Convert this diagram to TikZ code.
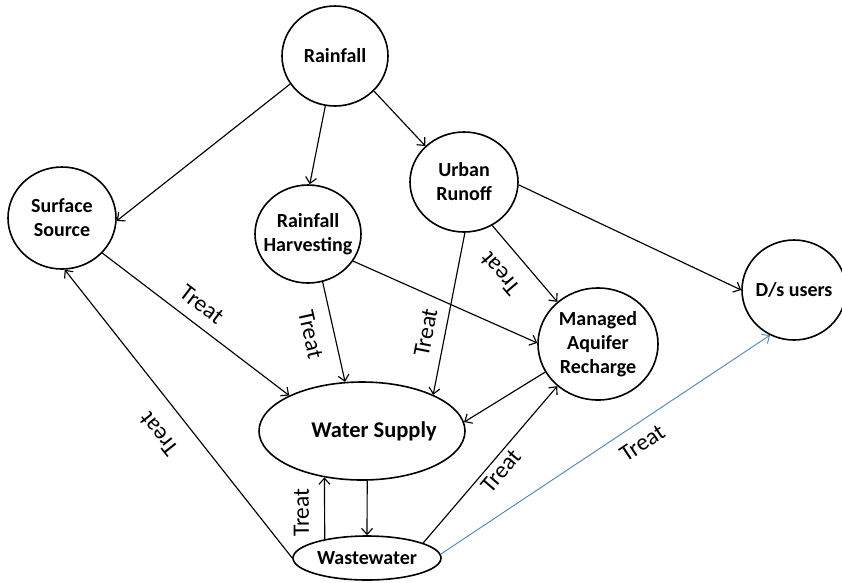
\documentclass[tikz,border=0pt]{standalone}
\usepackage{fontspec}
\setmainfont{Carlito}
\usetikzlibrary{arrows.meta,shapes.geometric}
\definecolor{lblue}{HTML}{4F81BD}
\begin{document}
\begin{tikzpicture}[x=1pt,y=-1pt,
  every node/.style={font=\bfseries\fontsize{20}{24}\selectfont},
  circ/.style={draw,ellipse,line width=1.6pt,inner xsep=-16pt,inner ysep=0pt,align=center},
  edge/.style={line width=1.15pt,-{Straight Barb[length=6pt,width=11pt]}},
  redge/.style={line width=1.15pt,{Straight Barb[length=6pt,width=11pt]}-},
  lab/.style={font=\fontsize{23.5}{26}\selectfont,inner sep=0pt,text=black},
]
\useasboundingbox (0,0) rectangle (842,582);
\node[circ,minimum width=106pt,minimum height=100pt] (rain) at (335,56) {Rainfall};
\node[circ,minimum width=108pt,minimum height=102pt] (surf) at (62,218) {Surface\\Source};
\node[circ,minimum width=106pt,minimum height=98pt] (harv) at (308,234) {Rainfall\\Harvesting};
\node[circ,minimum width=108pt,minimum height=100pt] (urban) at (464,182) {Urban\\Runoff};
\node[circ,minimum width=120pt,minimum height=112pt] (mar) at (598,344) {Managed\\Aquifer\\Recharge};
\node[circ,minimum width=104pt,minimum height=100pt] (dsu) at (794,290) {D/s users};
\node[circ,minimum width=206pt,minimum height=98pt,font=\bfseries\fontsize{22.5}{26}\selectfont] (ws) at (362,431) {\hspace*{24pt}Water Supply};
\node[circ,minimum width=148pt,minimum height=44pt] (ww) at (367,558) {Wastewater};

\draw[edge] (rain.212) -- (surf.-3);
\draw[edge] (rain.259) -- (harv.88);
\draw[edge] (rain.-42) -- (urban.137);
\draw[edge] (surf.-41) -- node[lab,sloped,above=11pt,pos=.47]{Treat} (ws.154);
\draw[edge] (harv.-73) -- node[lab,sloped,below=15pt,pos=.475]{Treat} (ws.109);
\draw[edge] (harv.-31) -- (mar.179);
\draw[edge] (urban.-89) -- node[lab,sloped,above=11pt,pos=.64]{Treat} (ws.27);
\draw[redge] (mar.134) -- node[lab,sloped,allow upside down,above=17pt,pos=.582]{Treat} (urban.-57);
\draw[edge] (urban.-3) -- (dsu.180);
\draw[edge] (mar.208) -- (ws.5);
\draw[edge] (ww.156.8) -- node[lab,sloped,allow upside down,above=15pt,pos=.43]{Treat} (ws.-129);
\draw[edge] (ws.-84.2) -- (ww.north);
\draw[edge] (ww.west) -- node[lab,sloped,allow upside down,above=20pt,pos=.49]{Treat} (surf.-87);
\draw[edge] (ww.15.8) -- node[lab,sloped,below=4pt,pos=.51]{Treat} (mar.226);
\draw[edge,draw=lblue,line width=.9pt] (ww.3) -- node[lab,sloped,below=11pt,pos=.58]{Treat} (dsu.242);
\end{tikzpicture}
\end{document}
